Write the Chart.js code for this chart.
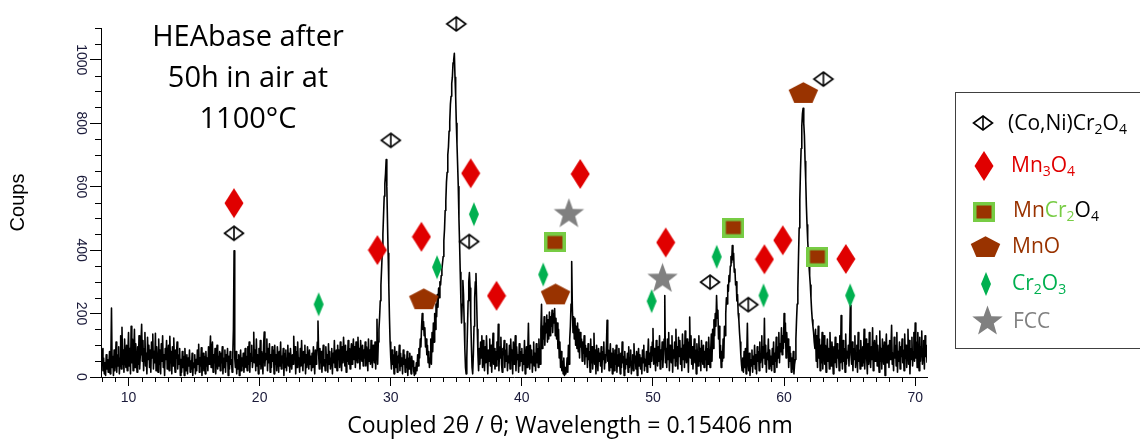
<!DOCTYPE html>
<html>
<head>
<meta charset="utf-8">
<title>HEAbase XRD pattern</title>
<script src="https://cdn.jsdelivr.net/npm/chart.js@4.4.0/dist/chart.umd.min.js"></script>
<style>
  html, body { margin: 0; padding: 0; background: #ffffff; }
  #wrap { width: 1140px; height: 441px; position: relative; }
</style>
</head>
<body>
<div id="wrap"><canvas id="xrd" width="1140" height="441"></canvas></div>
<script>
// ---- Measured pattern: 2θ scan from 8.00° in 0.05° steps (one row = 1°) ----
const angleStart = 8.0;
const angleStep = 0.05;
const counts = [
  90, 20, 60, 10, 45, 5, 70, 25, 55, 15, 40, 80, 10, 50, 217, 30, 65, 5, 85, 20,            // 8
  50, 110, 15, 70, 35, 95, 10, 60, 130, 25, 157, 40, 85, 15, 120, 55, 30, 100, 20, 75,       // 9
  140, 35, 90, 10, 160, 45, 120, 20, 80, 150, 30, 105, 60, 15, 95, 40, 130, 25, 70, 110,     // 10
  166, 50, 115, 20, 90, 140, 35, 75, 10, 125, 55, 100, 30, 85, 15, 110, 60, 135, 25, 80,     // 11
  45, 138, 20, 95, 60, 15, 120, 40, 85, 10, 105, 50, 130, 30, 70, 5, 90, 55, 115, 25,        // 12
  65, 100, 20, 128, 45, 80, 10, 95, 35, 123, 50, 15, 85, 60, 110, 25, 70, 40, 90, 5,         // 13
  55, 15, 80, 30, 65, 5, 90, 40, 20, 70, 10, 60, 35, 85, 15, 50, 25, 75, 5, 45,              // 14
  30, 70, 10, 55, 20, 85, 40, 103, 15, 60, 35, 92, 5, 50, 75, 20, 65, 10, 80, 35,            // 15
  60, 20, 95, 40, 75, 129, 30, 85, 110, 15, 70, 45, 90, 10, 55, 100, 25, 65, 35, 80,         // 16
  20, 75, 45, 95, 10, 60, 30, 85, 15, 70, 50, 90, 5, 65, 25, 80, 40, 55, 15, 70,             // 17
  150, 398, 60, 30, 80, 10, 55, 25, 70, 5, 45, 85, 20, 60, 35, 75, 15, 50, 90, 30,           // 18
  65, 20, 95, 40, 110, 15, 75, 50, 100, 30, 60, 141, 45, 85, 20, 120, 35, 70, 10, 90,        // 19
  40, 115, 25, 80, 60, 10, 100, 142, 35, 75, 55, 120, 20, 90, 45, 105, 15, 70, 30, 95,       // 20
  50, 85, 10, 100, 40, 70, 20, 95, 60, 15, 80, 35, 110, 25, 65, 45, 90, 5, 75, 30,           // 21
  85, 20, 60, 100, 35, 75, 15, 90, 50, 25, 70, 40, 128, 55, 95, 10, 80, 30, 110, 45,         // 22
  60, 15, 90, 35, 115, 50, 20, 80, 45, 100, 10, 70, 30, 95, 55, 25, 85, 40, 65, 20,          // 23
  75, 30, 95, 50, 10, 85, 40, 65, 110, 176, 70, 25, 90, 45, 80, 15, 60, 100, 35, 55,         // 24
  20, 95, 50, 70, 15, 105, 40, 80, 25, 60, 90, 10, 75, 45, 115, 30, 65, 85, 20, 100,         // 25
  55, 85, 30, 110, 60, 20, 95, 45, 125, 70, 35, 100, 15, 80, 50, 115, 40, 90, 25, 75,        // 26
  105, 40, 80, 120, 55, 95, 30, 110, 70, 45, 125, 60, 90, 25, 115, 75, 50, 100, 35, 85,      // 27
  60, 110, 35, 95, 70, 20, 120, 50, 85, 40, 115, 65, 30, 100, 75, 45, 110, 25, 90, 182,      // 28
  40, 110, 150, 190, 240, 290, 340, 390, 450, 510, 570, 610, 640, 685, 600, 490, 390, 290, 190, 110, // 29
  60, 25, 85, 40, 70, 10, 95, 55, 30, 80, 15, 65, 45, 100, 20, 75, 35, 60, 10, 85,           // 30
  40, 70, 15, 55, 30, 80, 5, 60, 25, 75, 45, 10, 65, 35, 50, 20, 5, 30, 10, 45,              // 31
  20, 70, 35, 90, 60, 120, 95, 160, 200, 150, 175, 130, 155, 95, 120, 70, 100, 45, 80, 30,   // 32
  60, 120, 40, 140, 80, 170, 110, 200, 150, 230, 190, 260, 220, 280, 250, 300, 290, 320, 340, 360, // 33
  380, 430, 465, 525, 555, 615, 645, 700, 725, 775, 805, 860, 885, 925, 945, 990, 1000, 1020, 945, 885, // 34
  800, 735, 670, 600, 500, 420, 330, 240, 170, 230, 304, 260, 170, 90, 30, 10, 60, 150, 240, 300, // 35
  329, 280, 190, 100, 30, 10, 70, 160, 250, 300, 326, 240, 150, 70, 20, 90, 40, 110, 60, 130, // 36
  30, 115, 60, 20, 95, 45, 130, 70, 10, 85, 50, 120, 35, 100, 15, 75, 138, 40, 90, 25,       // 37
  80, 35, 110, 55, 166, 20, 95, 60, 125, 40, 15, 90, 70, 115, 30, 85, 50, 105, 20, 65,       // 38
  45, 100, 25, 120, 60, 85, 10, 110, 40, 75, 130, 20, 95, 55, 70, 15, 105, 35, 80, 50,       // 39
  90, 20, 70, 40, 115, 10, 60, 95, 30, 80, 169, 50, 25, 100, 45, 85, 15, 65, 110, 35,        // 40
  75, 20, 105, 45, 90, 30, 120, 60, 40, 150, 229, 90, 160, 120, 190, 100, 170, 140, 195, 110, // 41
  180, 120, 205, 130, 190, 160, 210, 140, 200, 170, 216, 130, 185, 120, 170, 90, 150, 60, 110, 30, // 42
  80, 20, 50, 10, 60, 5, 30, 10, 20, 60, 15, 100, 40, 120, 160, 230, 364, 220, 140, 190,     // 43
  120, 185, 100, 160, 90, 170, 80, 150, 60, 140, 95, 120, 50, 110, 75, 130, 40, 100, 65, 90, // 44
  30, 105, 55, 80, 15, 120, 45, 95, 25, 70, 138, 40, 85, 10, 100, 60, 20, 90, 50, 75,        // 45
  35, 95, 15, 80, 55, 110, 25, 70, 45, 100, 179, 50, 85, 20, 65, 105, 30, 75, 10, 90,        // 46
  60, 20, 85, 40, 100, 15, 70, 35, 90, 50, 10, 75, 30, 110, 45, 65, 5, 80, 25, 55,           // 47
  40, 75, 15, 95, 30, 60, 85, 10, 50, 70, 20, 105, 45, 65, 25, 80, 5, 55, 90, 35,            // 48
  70, 25, 60, 10, 85, 45, 100, 20, 55, 35, 80, 15, 65, 120, 40, 75, 30, 95, 50, 110,         // 49
  153, 40, 90, 60, 20, 115, 75, 35, 95, 50, 130, 25, 85, 55, 110, 30, 70, 120, 257, 45,      // 50
  90, 30, 120, 55, 140, 20, 100, 70, 45, 130, 15, 85, 60, 110, 35, 150, 50, 95, 25, 125,     // 51
  65, 115, 40, 90, 20, 135, 55, 100, 30, 145, 70, 45, 120, 85, 15, 110, 189, 60, 130, 40,    // 52
  95, 25, 75, 120, 45, 85, 10, 105, 60, 35, 130, 50, 90, 20, 115, 70, 40, 100, 30, 80,       // 53
  55, 110, 20, 90, 40, 125, 65, 30, 80, 135, 50, 150, 90, 180, 130, 200, 160, 257, 185, 210, // 54
  120, 160, 60, 100, 30, 80, 50, 120, 60, 160, 130, 200, 250, 230, 290, 270, 320, 300, 350, 380, // 55
  360, 414, 370, 390, 330, 340, 290, 300, 240, 260, 200, 180, 140, 110, 70, 40, 20, 60, 15, 80, // 56
  30, 90, 10, 60, 169, 45, 20, 75, 5, 55, 35, 85, 15, 65, 40, 100, 25, 70, 10, 95,           // 57
  50, 80, 20, 110, 45, 70, 130, 30, 95, 60, 185, 40, 100, 15, 75, 55, 120, 25, 85, 35,       // 58
  65, 20, 90, 40, 110, 15, 75, 50, 125, 30, 95, 60, 140, 45, 105, 80, 155, 70, 130, 90,      // 59
  200, 110, 170, 60, 140, 85, 120, 30, 95, 50, 75, 15, 60, 25, 80, 10, 40, 55, 120, 180,     // 60
  230, 280, 380, 470, 560, 650, 720, 790, 830, 847, 800, 760, 680, 620, 540, 480, 430, 390, 350, 320, // 61
  290, 250, 210, 180, 160, 140, 110, 90, 150, 50, 130, 30, 160, 60, 120, 20, 100, 45, 140, 25, // 62
  85, 130, 40, 100, 15, 75, 120, 50, 90, 25, 140, 60, 35, 110, 70, 10, 95, 45, 125, 55,      // 63
  30, 105, 60, 85, 20, 130, 45, 194, 70, 25, 115, 50, 90, 15, 135, 40, 80, 60, 100, 35,      // 64
  120, 226, 70, 40, 110, 20, 90, 55, 130, 30, 75, 100, 15, 140, 50, 85, 25, 115, 65, 35,     // 65
  95, 45, 150, 25, 80, 120, 60, 10, 105, 40, 140, 70, 30, 95, 55, 155, 20, 85, 115, 50,      // 66
  75, 130, 35, 100, 60, 15, 145, 50, 90, 25, 120, 65, 40, 110, 5, 85, 135, 45, 70, 100,      // 67
  30, 115, 55, 90, 163, 40, 75, 20, 125, 60, 100, 35, 140, 15, 80, 50, 110, 25, 95, 65,      // 68
  120, 45, 85, 20, 135, 60, 100, 30, 75, 150, 40, 115, 10, 90, 55, 125, 35, 80, 140, 50,     // 69
  170, 60, 110, 30, 140, 75, 20, 125, 50, 95, 145, 40, 85, 115, 25, 130, 65, 100, 45, 90     // 70
];

// ---- Phase identification marks: [2θ, label height in counts] ----
const coNiCr2O4Marks = [[18.04, 453], [30.0, 746], [35.0, 1113], [35.98, 427], [54.35, 299], [57.27, 228], [63.0, 939]];
const mn3O4Marks = [[18.04, 548], [28.98, 400], [32.34, 442], [36.1, 642], [38.07, 256], [44.45, 640], [50.97, 424], [58.5, 371], [59.9, 431], [64.71, 372]];
const mnCr2O4Marks = [[42.52, 424], [56.13, 471], [62.54, 379]];
const mnOMarks = [[32.52, 247], [42.57, 262], [61.47, 897]];
const cr2O3Marks = [[24.5, 229], [33.53, 346], [36.34, 513], [41.63, 323], [49.9, 239], [54.86, 379], [58.43, 257], [65.04, 257]];
const fccMarks = [[43.59, 518], [50.73, 314]];

// ---- Axis ticks ----
const xTicks = [10, 20, 30, 40, 50, 60, 70];
const yTicks = [0, 200, 400, 600, 800, 1000];

const sampleText = ['HEAbase after', '50h in air at', '1100°C'];
const xTitle = 'Coupled 2θ / θ; Wavelength = 0.15406 nm';
const yTitle = 'Coups';

// ---- Styling ----
const RED = '#e00000';
const GREEN = '#00b050';
const BROWN = '#993300';
const LIME = '#77cc44';
const GREY = '#808080';
const SANS = "'Liberation Sans', Arial, sans-serif";
const HUMANIST = "'Open Sans', Lato, sans-serif";
const TICK_COLOR = '#1a1a3a';

function markerCanvas(w, h, draw) {
  const c = document.createElement('canvas');
  c.width = w; c.height = h;
  draw(c.getContext('2d'), w, h);
  return c;
}
function polygon(g, pts) {
  g.beginPath();
  pts.forEach((p, i) => (i ? g.lineTo(p[0], p[1]) : g.moveTo(p[0], p[1])));
  g.closePath();
}
const MARKERS = {
  coni: markerCanvas(24, 18, (g, w, h) => {
    const cx = w / 2, cy = h / 2, rx = 9.5, ry = 7;
    polygon(g, [[cx, cy - ry], [cx + rx, cy], [cx, cy + ry], [cx - rx, cy]]);
    g.fillStyle = '#fff'; g.fill();
    g.lineWidth = 1.6; g.strokeStyle = '#000'; g.lineJoin = 'miter'; g.stroke();
    g.beginPath(); g.moveTo(cx, cy - ry); g.lineTo(cx, cy + ry); g.stroke();
  }),
  mn3o4: markerCanvas(20, 32, (g, w, h) => {
    polygon(g, [[w / 2, 1], [w - 0.5, h / 2], [w / 2, h - 1], [0.5, h / 2]]);
    g.fillStyle = RED; g.fill();
  }),
  mncr2o4: markerCanvas(22, 20, (g, w, h) => {
    g.fillStyle = LIME; g.fillRect(0, 0, w, h);
    g.fillStyle = BROWN; g.fillRect(3.5, 3.5, w - 7, h - 7);
  }),
  mno: markerCanvas(31, 23, (g, w, h) => {
    const R = 15.5, sy = 0.74, cx = w / 2, cy = 12.6;
    const pts = [];
    for (let k = 0; k < 5; k++) {
      const a = (-90 + k * 72) * Math.PI / 180;
      pts.push([cx + R * Math.cos(a), cy + R * Math.sin(a) * sy]);
    }
    polygon(g, pts);
    g.fillStyle = BROWN; g.fill();
  }),
  cr2o3: markerCanvas(12, 26, (g, w, h) => {
    polygon(g, [[w / 2, 1], [w - 1, h / 2], [w / 2, h - 1], [1, h / 2]]);
    g.fillStyle = GREEN; g.fill();
  }),
  fcc: markerCanvas(33, 30, (g, w, h) => {
    const R = 16, r = 6.6, cx = w / 2, cy = 16.5;
    const pts = [];
    for (let k = 0; k < 10; k++) {
      const a = (-90 + k * 36) * Math.PI / 180;
      const rr = k % 2 ? r : R;
      pts.push([cx + rr * Math.cos(a), cy + rr * Math.sin(a)]);
    }
    polygon(g, pts);
    g.fillStyle = GREY; g.fill();
  })
};

// Rich legend rows: text runs with colour and optional subscript flag
const legendRows = [
  { mark: 'coni',    runs: [['(Co,Ni)Cr', '#000'], ['2', '#000', 1], ['O', '#000'], ['4', '#000', 1]] },
  { mark: 'mn3o4',   runs: [['Mn', RED], ['3', RED, 1], ['O', RED], ['4', RED, 1]] },
  { mark: 'mncr2o4', runs: [['Mn', BROWN], ['Cr', LIME], ['2', LIME, 1], ['O', '#000'], ['4', '#000', 1]] },
  { mark: 'mno',     runs: [['MnO', BROWN]] },
  { mark: 'cr2o3',   runs: [['Cr', GREEN], ['2', GREEN, 1], ['O', GREEN], ['3', GREEN, 1]] },
  { mark: 'fcc',     runs: [['FCC', GREY]] }
];
// marker centre, text start and baseline for each legend row
const legendLayout = [
  { mx: 983, my: 123, tx: 1008, ty: 130 },
  { mx: 984, my: 166, tx: 1011, ty: 172 },
  { mx: 984, my: 212, tx: 1013, ty: 217 },
  { mx: 985, my: 246, tx: 1012, ty: 253 },
  { mx: 986, my: 284, tx: 1012, ty: 290 },
  { mx: 987, my: 320, tx: 1013, ty: 328 }
];

const decorations = {
  id: 'decorations',
  afterDraw(chart) {
    const ctx = chart.ctx;
    const xs = chart.scales.x, ys = chart.scales.y;
    ctx.save();

    // minor ticks
    ctx.strokeStyle = '#000';
    ctx.lineWidth = 1;
    ctx.beginPath();
    for (let v = 8; v <= 70; v++) {
      if (xTicks.includes(v)) continue;
      const px = Math.round(xs.getPixelForValue(v)) + 0.5;
      ctx.moveTo(px, xs.top);
      ctx.lineTo(px, xs.top + 5);
    }
    for (let v = 50; v <= 1100; v += 50) {
      if (yTicks.includes(v)) continue;
      const py = Math.round(ys.getPixelForValue(v)) + 0.5;
      ctx.moveTo(ys.right, py);
      ctx.lineTo(ys.right - 6, py);
    }
    ctx.stroke();

    // sample description
    ctx.fillStyle = '#000';
    ctx.font = '29px ' + HUMANIST;
    ctx.textAlign = 'center';
    ctx.textBaseline = 'alphabetic';
    const baselines = [46, 87, 128];
    sampleText.forEach((t, i) => ctx.fillText(t, 248, baselines[i]));

    // legend frame
    ctx.strokeStyle = '#404040';
    ctx.lineWidth = 1;
    ctx.strokeRect(955.5, 92.5, 200, 256);

    // legend rows
    ctx.textAlign = 'left';
    const size = 21, subSize = 14;
    legendRows.forEach((row, i) => {
      const L = legendLayout[i];
      const img = MARKERS[row.mark];
      ctx.drawImage(img, Math.round(L.mx - img.width / 2), Math.round(L.my - img.height / 2));
      let x = L.tx;
      row.runs.forEach(([t, c, sub]) => {
        ctx.font = (sub ? subSize : size) + 'px ' + HUMANIST;
        ctx.fillStyle = c;
        ctx.fillText(t, x, L.ty + (sub ? 4 : 0));
        x += ctx.measureText(t).width;
      });
    });
    ctx.restore();
  }
};

const tracePoints = counts.map((c, i) => ({ x: +(angleStart + i * angleStep).toFixed(2), y: c }));
const toXY = arr => arr.map(([x, y]) => ({ x, y }));
function markDataset(label, arr, key) {
  return {
    type: 'scatter', label, data: toXY(arr), order: 0, clip: false,
    pointStyle: MARKERS[key], pointRadius: 11, pointHoverRadius: 11, borderWidth: 0
  };
}

new Chart(document.getElementById('xrd'), {
  type: 'line',
  data: {
    datasets: [
      markDataset('(Co,Ni)Cr2O4', coNiCr2O4Marks, 'coni'),
      markDataset('Mn3O4', mn3O4Marks, 'mn3o4'),
      markDataset('MnCr2O4', mnCr2O4Marks, 'mncr2o4'),
      markDataset('MnO', mnOMarks, 'mno'),
      markDataset('Cr2O3', cr2O3Marks, 'cr2o3'),
      markDataset('FCC', fccMarks, 'fcc'),
      {
        label: 'HEAbase', data: tracePoints, order: 1,
        borderColor: '#000', borderWidth: 1.6, borderJoinStyle: 'round',
        pointRadius: 0, tension: 0, fill: false
      }
    ]
  },
  options: {
    responsive: false,
    devicePixelRatio: 1,
    animation: false,
    events: [],
    layout: { padding: { top: 28, left: 0, right: 0, bottom: 0 } },
    scales: {
      x: {
        type: 'linear', min: 7.9, max: 70.9,
        afterBuildTicks: s => { s.ticks = xTicks.map(v => ({ value: v })); },
        afterFit: s => { s.height = 31; },
        grid: { drawOnChartArea: false, drawTicks: true, tickLength: 9, tickColor: '#000' },
        border: { display: true, color: '#000', width: 1 },
        ticks: { font: { family: SANS, size: 14 }, color: TICK_COLOR, padding: 4, maxRotation: 0, autoSkip: false,
                 callback: v => String(v) }
      },
      y: {
        type: 'linear', min: 0, max: 1100,
        afterBuildTicks: s => { s.ticks = yTicks.map(v => ({ value: v })); },
        afterFit: s => { s.width = 101; },
        grid: { drawOnChartArea: false, drawTicks: true, tickLength: 11, tickColor: '#000' },
        border: { display: true, color: '#000', width: 1 },
        ticks: { font: { family: SANS, size: 14 }, color: TICK_COLOR, minRotation: -90, maxRotation: -90, crossAlign: 'center', padding: -6, autoSkip: false,
                 callback: v => String(v) },
        title: { display: true, text: yTitle, font: { family: SANS, size: 20 }, color: '#000', padding: { top: 6, bottom: 0 } }
      },
      pad: {
        type: 'linear', position: 'right', display: true,
        grid: { display: false }, border: { display: false }, ticks: { display: false },
        afterFit: s => { s.width = 213; }
      }
    },
    plugins: {
      legend: { display: false },
      tooltip: { enabled: false },
      title: {
        display: true, position: 'bottom', text: xTitle, color: '#000',
        font: { family: HUMANIST, size: 23, weight: 'normal', lineHeight: '25px' },
        padding: { top: 6, bottom: 2 }
      }
    }
  },
  plugins: [decorations]
});
</script>
</body>
</html>
